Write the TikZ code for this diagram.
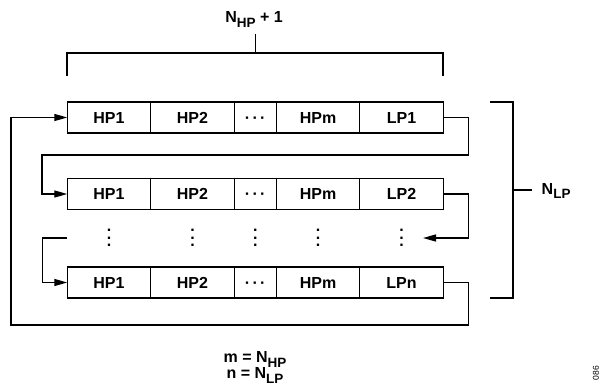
\documentclass[tikz,border=0pt]{standalone}
\usepackage{fontspec}
\setmainfont{Liberation Sans}
\usetikzlibrary{arrows.meta,positioning}
\newcommand{\lowsub}[1]{\raisebox{-4.5pt}{\fontsize{13.5}{14}\selectfont #1}}
\newcommand{\vdotsbig}{\vbox{\baselineskip7.5pt\lineskiplimit0pt\hbox{.}\hbox{.}\hbox{.}}}
\newcommand{\hdotsbig}{\raisebox{-5.6pt}[0pt][0pt]{\textperiodcentered\kern2.3pt\textperiodcentered\kern2.3pt\textperiodcentered}}

\begin{document}
\begin{tikzpicture}[x=1pt,y=-1pt,>={Triangle[length=13pt,width=7pt]},line width=1.4pt,
  c/.style={draw,minimum width=83.5pt,minimum height=31pt,inner sep=0pt,outer sep=0pt},
  g/.style={c,minimum width=42pt},
  vd/.style={inner sep=0pt},
  lbl/.style={inner sep=0pt,anchor=base},
  every node/.append style={font=\bfseries\fontsize{16}{18}\selectfont}]
\useasboundingbox (0,0) rectangle (602,385);
% frame rows
\node[c] (p11) at (109,117.5) {HP1}; \node[c,right=0pt of p11] (p21) {HP2}; \node[g,right=0pt of p21] (d1) {\hdotsbig};
\node[c,right=0pt of d1] (pm1) {HPm}; \node[c,right=0pt of pm1] (lp1) {LP1};
\node[c] (p12) at (109,194) {HP1}; \node[c,right=0pt of p12] (p22) {HP2}; \node[g,right=0pt of p22] (d2) {\hdotsbig};
\node[c,right=0pt of d2] (pm2) {HPm}; \node[c,right=0pt of pm2] (lp2) {LP2};
\node[c] (p13) at (109,282.5) {HP1}; \node[c,right=0pt of p13] (p23) {HP2}; \node[g,right=0pt of p23] (d3) {\hdotsbig};
\node[c,right=0pt of d3] (pm3) {HPm}; \node[c,right=0pt of pm3] (lpn) {LPn};
% dots between rows
\coordinate (mid) at (0,238); \coordinate (din) at (423,238);
\node[vd] (v1) at (p12 |- mid) {\vdotsbig}; \node[vd] (v2) at (p22 |- mid) {\vdotsbig};
\node[vd] (v3) at (d2 |- mid) {\vdotsbig}; \node[vd] (v4) at (pm2 |- mid) {\vdotsbig};
\node[vd] (v5) at (lp2 |- mid) {\vdotsbig};
% links
\draw[->] (lp1.east) -- ++(25,0) |- (42,155) |- (p12.west);
\draw[->] (lp2.east) -- ++(25,0) |- (din);
\draw[->] (p13.west |- mid) -- ++(-25,0) |- (p13.west);
\draw[->] (lpn.east) -- ++(25,0) |- (11,325) |- (p11.west);
% brackets
\draw (67,76) |- (443,53) -- (443,76);
\draw (d1.north |- 0,53) -- (d1.north |- 0,34);
\node[lbl] (nhp) at (254,23) {N\lowsub{HP} + 1};
\draw (490,102) -| (513,298) -- (490,298);
\draw (513,190) -- (532,190);
\node[lbl,anchor=base west] (nlp) at (541,194) {N\lowsub{LP}};
\node[lbl] (m) at (255,362.5) {m = N\lowsub{HP}};
\node[lbl] (n) at (255,378.5) {n = N\lowsub{LP}};
\node[rotate=90,inner sep=0pt,font=\fontsize{8.5}{9}\selectfont] (fid) at (596,373) {086};
\end{tikzpicture}
\end{document}
